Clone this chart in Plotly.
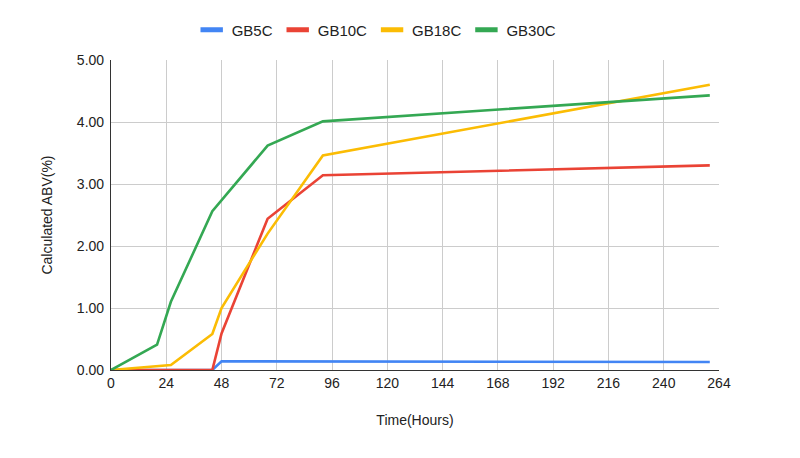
import plotly.graph_objects as go

# Data
gb5c_hours = [0, 44, 48, 92, 260]
gb5c_abv = [0.0, 0.0, 0.14, 0.14, 0.13]

gb10c_hours = [0, 44, 48, 68, 92, 260]
gb10c_abv = [0.0, 0.0, 0.59, 2.44, 3.14, 3.30]

gb18c_hours = [0, 26, 44, 48, 68, 92, 260]
gb18c_abv = [0.0, 0.08, 0.58, 1.00, 2.20, 3.46, 4.60]

gb30c_hours = [0, 20, 26, 44, 68, 92, 260]
gb30c_abv = [0.0, 0.41, 1.10, 2.56, 3.62, 4.01, 4.43]

x_ticks = list(range(0, 265, 24))
y_ticks = [0, 1, 2, 3, 4, 5]

series = [
    ("GB5C", gb5c_hours, gb5c_abv, "#4285F4"),
    ("GB10C", gb10c_hours, gb10c_abv, "#EA4335"),
    ("GB18C", gb18c_hours, gb18c_abv, "#FBBC04"),
    ("GB30C", gb30c_hours, gb30c_abv, "#34A853"),
]

fig = go.Figure()
for name, xs, ys, color in series:
    fig.add_trace(go.Scatter(x=xs, y=ys, name=name, mode="lines",
                             line=dict(color=color, width=2.6),
                             showlegend=False, legendgroup=name))
# legend entries with short, thick swatches
for name, xs, ys, color in series:
    fig.add_trace(go.Scatter(x=[None], y=[None], name=name, mode="markers",
                             marker=dict(symbol="line-ew", size=16,
                                         line=dict(color=color, width=5)),
                             showlegend=True, legendgroup=name))

font = "Liberation Sans, Arial, sans-serif"
fig.update_layout(
    width=800, height=458,
    margin=dict(l=111, r=81, t=60, b=88),
    paper_bgcolor="white", plot_bgcolor="white",
    font=dict(family=font, size=14, color="#222222"),
    showlegend=True,
    legend=dict(orientation="h", x=0.437, xanchor="center", y=1.097, yanchor="middle",
                font=dict(size=15, color="#222222"), itemwidth=30,
                traceorder="normal"),
    xaxis=dict(range=[0, 264], tickmode="array", tickvals=x_ticks,
               showgrid=True, gridcolor="#cccccc", gridwidth=1,
               showline=True, linecolor="#333333", linewidth=1.2,
               zeroline=False, ticks="", tickfont=dict(size=14),
               title=dict(text="Time(Hours)", standoff=25, font=dict(size=14))),
    yaxis=dict(range=[0, 5], tickmode="array", tickvals=y_ticks, tickformat=".2f",
               showgrid=True, gridcolor="#cccccc", gridwidth=1,
               showline=True, linecolor="#333333", linewidth=1.2,
               zeroline=False, ticks="", tickfont=dict(size=14),
               ticklabelstandoff=3,
               title=dict(text="Calculated ABV(%)", standoff=20, font=dict(size=14))),
)

fig.write_html("out.html")
